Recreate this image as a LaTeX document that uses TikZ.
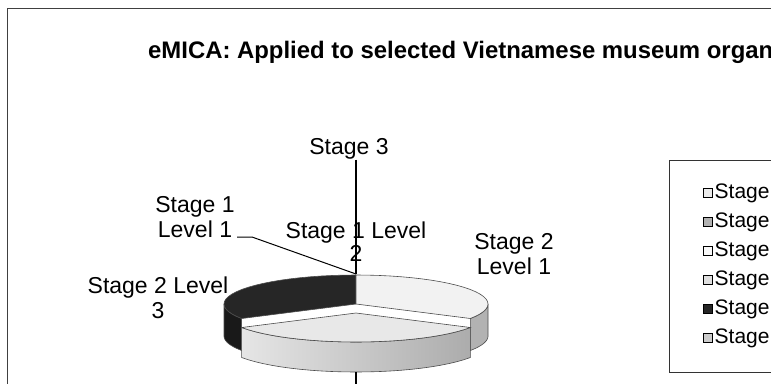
\documentclass[tikz,border=0pt]{standalone}
\usepackage{fontspec}
\setmainfont{Liberation Sans}

\begin{document}
\begin{tikzpicture}[x=1pt,y=-1pt,
  lbl/.style={font=\fontsize{23}{25}\selectfont, align=center, inner sep=0pt},
  key/.style={draw=black, line width=1pt, minimum size=9pt, inner sep=0pt},
  rim/.style={draw=black!70, line width=0.6pt}]
\clip (0,0) rectangle (771,383);
\fill[white] (0,0) rectangle (771,383);
\draw[line width=1pt, black!75] (7,395) -- (7,8) -- (790,8);
\node[anchor=base west, inner sep=0pt, font=\fontsize{23.9}{28}\selectfont\bfseries] (title) at (148,58) {eMICA: Applied to selected Vietnamese museum organ};

\filldraw[rim, fill=black!90] plot[domain=180:210, variable=\t] ({356+132*cos(\t)},{304-29*sin(\t)})
  -- plot[domain=210:180, variable=\t] ({356+132*cos(\t)},{336-29*sin(\t)}) -- cycle;
\filldraw[rim, fill=gray!60] plot[domain=-30:0, variable=\t] ({356+132*cos(\t)},{304-29*sin(\t)})
  -- plot[domain=0:-30, variable=\t] ({356+132*cos(\t)},{336-29*sin(\t)}) -- cycle;
\filldraw[rim, fill=black!85] (356,304) -- plot[domain=90:210, variable=\t] ({356+132*cos(\t)},{304-29*sin(\t)}) -- cycle;
\filldraw[rim, fill=gray!10] (356,304) -- plot[domain=90:-30, variable=\t] ({356+132*cos(\t)},{304-29*sin(\t)}) -- cycle;
\shadedraw[rim, left color=gray!20, right color=gray!65] plot[domain=210:330, variable=\t] ({356+132*cos(\t)},{313-29*sin(\t)})
  -- plot[domain=330:210, variable=\t] ({356+132*cos(\t)},{343-29*sin(\t)}) -- cycle;
\filldraw[rim, fill=gray!18] (356,313) -- plot[domain=210:330, variable=\t] ({356+132*cos(\t)},{313-29*sin(\t)}) -- cycle;

\coordinate (top) at (356,274);
\coordinate (bot) at (356,372);
\coordinate (k11) at (237,237);
\node[lbl] (s3) at (349,149) {Stage 3};
\node[lbl] (s1l1) at (195,217) {Stage 1\\Level 1};
\node[lbl] (s1l2) at (356,242) {Stage 1 Level\\[-2pt]2};
\node[lbl] (s2l1) at (514,254) {Stage 2\\Level 1};
\node[lbl] (s2l3) at (158,298) {Stage 2 Level\\3};
\draw[line width=1.2pt] (top |- s3.south) -- (top);
\draw[line width=1pt] (k11) -- ++(15,0) -- (top);
\draw[line width=1.2pt] (bot) -- ++(0,15);

\draw[line width=0.8pt, black!80] (669,160) rectangle (790,372);
\foreach \c [count=\i] in {gray!15, gray!60, gray!5, gray!25, black!85, gray!40} {
  \node[key, fill=\c] (k\i) at (707.5,164+29*\i) {};
  \node[lbl, anchor=west, font=\fontsize{21}{24}\selectfont] (t\i) at ([xshift=2pt]k\i.east) {Stage};
}
\end{tikzpicture}
\end{document}
